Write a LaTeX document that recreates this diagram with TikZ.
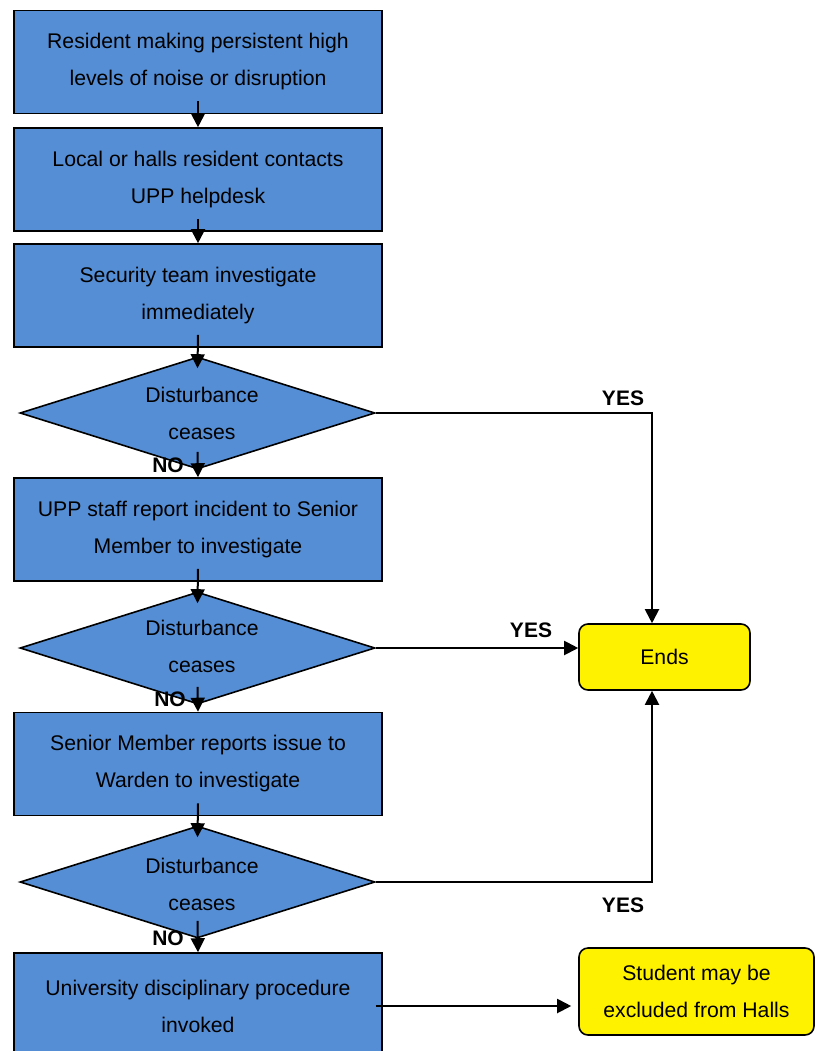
\documentclass[tikz,border=0pt]{standalone}
\usepackage{fontspec}
\setmainfont{Liberation Sans}
\usetikzlibrary{arrows.meta,shapes.geometric}
\definecolor{boxblue}{RGB}{85,142,213}
\begin{document}
\begin{tikzpicture}[x=1pt,y=-1pt,
  txt/.style={font=\fontsize{21.2}{37}\selectfont,align=center},
  proc/.style={txt,draw=black,line width=1.6pt,fill=boxblue,minimum width=368pt,minimum height=103pt,inner sep=0pt},
  dia/.style={diamond,draw=black,line width=1.6pt,fill=boxblue,minimum width=355pt,minimum height=112pt,inner sep=0pt},
  term/.style={txt,draw=black,line width=1.6pt,fill=yellow,rounded corners=9pt,inner sep=0pt},
  lbl/.style={font=\fontsize{21}{24}\selectfont\bfseries,inner sep=0pt},
  arr/.style={line width=2pt,-{Triangle[length=14pt,width=14pt]}},
  con/.style={line width=2pt}
]
\useasboundingbox (0,0) rectangle (815,1051);
\node[proc] (b1) at (198,62) {Resident making persistent high\\levels of noise or disruption};
\node[proc] (b2) at (198,179.5) {Local or halls resident contacts\\UPP helpdesk};
\node[proc] (b3) at (198,295.5) {Security team investigate\\immediately};
\node[dia] (d1) at (197.5,413) {};
\node[txt] (d1t) at (202,413) {Disturbance\\ceases};
\node[proc] (b4) at (198,529.5) {UPP staff report incident to Senior\\Member to investigate};
\node[dia] (d2) at (197.5,648) {};
\node[txt] (d2t) at (202,646) {Disturbance\\ceases};
\node[proc] (b5) at (198,764) {Senior Member reports issue to\\Warden to investigate};
\node[dia] (d3) at (197.5,882) {};
\node[txt] (d3t) at (202,884) {Disturbance\\ceases};
\node[proc,minimum height=106pt] (b6) at (198,1006) {University disciplinary procedure\\invoked};
\node[term,minimum width=171pt,minimum height=66pt] (ends) at (664.5,657) {Ends};
\node[term,minimum width=235pt,minimum height=87pt] (stud) at (696.5,991.5) {Student may be\\excluded from Halls};

\draw[arr] ([yshift=13pt]b1.south) -- (b2.north);
\draw[arr] ([yshift=13pt]b2.south) -- (b3.north);
\draw[arr] ([yshift=13pt]b3.south) -- ([yshift=-12pt]d1.north);
\draw[arr] ([yshift=18pt]d1.south) -- (b4.north);
\draw[arr] ([yshift=13pt]b4.south) -- ([yshift=-12pt]d2.north);
\draw[arr] ([yshift=18pt]d2.south) -- (b5.north);
\draw[arr] ([yshift=13pt]b5.south) -- ([yshift=-12pt]d3.north);
\draw[arr] ([yshift=18pt]d3.south) -- (b6.north);

\coordinate (e1) at ([xshift=-12.5pt]ends.north);
\coordinate (e2) at ([xshift=-12.5pt]ends.south);
\draw[arr] (d1.east) -| (e1);
\draw[arr] (d2.east) -- (d2.east -| ends.west);
\draw[arr] (d3.east) -| (e2);
\draw[arr] ([xshift=-7pt]b6.east) -- ([xshift=-7pt]b6.east -| stud.west);

\node[lbl] (y1) at (623,398) {YES};
\node[lbl] (y2) at (531,630) {YES};
\node[lbl] (y3) at (623,905) {YES};
\node[lbl] (n1) at (168,465) {NO};
\node[lbl] (n2) at (170,699) {NO};
\node[lbl] (n3) at (168,938) {NO};
\end{tikzpicture}
\end{document}
